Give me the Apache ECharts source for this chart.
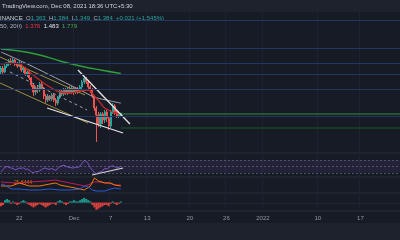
<!DOCTYPE html>
<html><head><meta charset="utf-8">
<script src="https://cdn.jsdelivr.net/npm/echarts@6/dist/echarts.min.js"></script>
<style>html,body{margin:0;padding:0;background:#171b26;}#c{width:400px;height:240px;}</style>
</head><body><div id="c"></div><script>
// ---------- data ----------
const slotCount = 197; // 8h slots from Nov 19
const tickIndex = [9, 36, 54, 72, 93, 111, 129, 156, 177];
const tickText = ['22', 'Dec', '7', '13', '20', '26', '2022', '10', '17'];
// [open, close, low, high]
const candles = [
 [1.794,1.834,1.774,1.854],[1.834,1.794,1.774,1.854],[1.794,1.854,1.784,1.874],[1.854,1.874,1.834,1.894],
 [1.874,1.904,1.854,1.924],[1.904,1.884,1.864,1.934],[1.884,1.914,1.874,1.934],[1.914,1.874,1.854,1.924],
 [1.874,1.854,1.834,1.894],[1.854,1.884,1.844,1.904],[1.884,1.814,1.794,1.894],[1.814,1.834,1.784,1.854],
 [1.834,1.774,1.754,1.844],[1.774,1.794,1.744,1.814],[1.794,1.734,1.714,1.804],[1.734,1.664,1.644,1.744],
 [1.664,1.594,1.554,1.674],[1.594,1.634,1.564,1.654],[1.634,1.614,1.584,1.664],[1.614,1.674,1.594,1.694],
 [1.674,1.634,1.614,1.694],[1.634,1.554,1.524,1.644],[1.554,1.514,1.484,1.574],[1.514,1.554,1.494,1.574],
 [1.554,1.524,1.504,1.564],[1.524,1.564,1.504,1.584],[1.564,1.514,1.494,1.574],[1.514,1.484,1.454,1.534],
 [1.484,1.544,1.464,1.554],[1.544,1.604,1.524,1.614],[1.604,1.574,1.554,1.624],[1.574,1.614,1.554,1.634],
 [1.614,1.584,1.564,1.634],[1.584,1.624,1.564,1.644],[1.624,1.594,1.574,1.654],[1.594,1.634,1.574,1.654],
 [1.634,1.594,1.564,1.644],[1.594,1.624,1.574,1.644],[1.624,1.604,1.574,1.644],[1.604,1.644,1.584,1.664],
 [1.644,1.694,1.624,1.714],[1.694,1.734,1.674,1.754],[1.734,1.694,1.674,1.744],[1.694,1.644,1.624,1.714],
 [1.644,1.614,1.584,1.664],[1.614,1.554,1.534,1.634],[1.554,1.434,1.404,1.564],[1.434,1.364,1.094,1.454],
 [1.364,1.274,1.244,1.394],[1.274,1.374,1.234,1.394],[1.374,1.314,1.274,1.394],[1.314,1.394,1.284,1.414],
 [1.394,1.334,1.294,1.414],[1.334,1.254,1.214,1.354],[1.254,1.394,1.234,1.414],[1.394,1.454,1.374,1.484],
 [1.454,1.394,1.364,1.474],[1.394,1.354,1.334,1.414],[1.354,1.364,1.334,1.384],[1.363,1.384,1.349,1.384]
];
const ma50 = [[0,1.874],[5,1.884],[10,1.864],[14,1.794],[19,1.714],[24,1.644],[29,1.594],[34,1.584],[39,1.604],[43,1.614],[46,1.554],[49,1.484],[51,1.434],[54,1.404],[56,1.384],[59,1.376]];
const ma100 = [[0,1.994],[14,1.864],[29,1.714],[39,1.614],[46,1.544],[54,1.504],[59,1.483]];
const ma200 = [[0,2.024],[9,2.004],[19,1.964],[29,1.904],[39,1.854],[49,1.814],[59,1.779]];
const blueLevels = [2.314, 2.034, 1.879, 1.774, 1.624, 1.354];
const greenRays = [[1.374, '#2f8f3a'], [1.234, '#1f5a2a']];
const channelUpper = [[-0.5,1.944],[41.4,1.564]];
const channelLower = [[-0.5,1.684],[42.8,1.284]];
const channelMid = [[4.4,1.794],[42.4,1.414]];
const wedgeTop = [[37.9,1.814],[63.5,1.274]];
const wedgeBottom = [[22.7,1.434],[60.1,1.184]];
const rsi = [33,40,48,50,47,45,44,39,42,45,44,46,41,42,38,33,30,34,33,36,40,44,45,42,41,44,40,38,44,50,
             52,54,50,48,47,45,46,48,47,52,60,69,66,58,46,38,30,28,31,33,36,44,42,46,50,52,49,45,47,51];
const rsiTrend = [[44.8,23.2],[60.1,45.1]];
const dmiRed = [[0,34.4],[7,31.2],[14,34.4],[22,37.5],[27,40.6],[29,37.5],[34,31.2],[39,25],[41,21.9],[44,28.1],[46,34.4],[49,34.4],[53,31.2],[56,25],[59,25]];
const dmiOrange = [[0,21.9],[5,21.9],[9,31.2],[14,21.9],[19,21.9],[24,28.1],[27,31.2],[29,25],[34,18.7],[39,12.5],[41,9.4],[44,21.9],[46,46.9],[48,37.5],[51,31.2],[54,31.2],[56,25],[59,21.9]];
const dmiBlue = [[0,25],[1,28.1],[5,12.5],[9,12.5],[14,9.4],[19,9.4],[24,12.5],[29,9.4],[34,9.4],[39,12.5],[41,21.9],[43,18.7],[45,9.4],[47,6.2],[49,6.2],[51,6.2],[54,12.5],[56,15.6],[59,12.5]];
const hist = [-3,-2,2,3,2,-1,1,-1,-2,-1,1,2,1,-1,-2,-3,-4,-3,-2,-1,-2,-3,-4,-3,-2,-1,-1,-2,1,2,
              1,-1,-2,-1,1,1,2,1,1,2,3,4,3,2,1,-2,-4,-6,-5,-4,-3,-2,-2,-3,-1,1,-1,-2,-1,1];
const dmiLabel = '25.6444';

// ---------- chart ----------
const cats = Array.from({length: slotCount}, (_, i) => String(i));
const isTick = (i) => tickIndex.indexOf(i) >= 0;
const grids = [
  {left: 0, right: 0, top: 12, height: 141},
  {left: 0, right: 0, top: 153, height: 24},
  {left: 0, right: 0, top: 177, height: 16},
  {left: 0, right: 0, top: 193, height: 18}
];
const xAxis = [];
grids.forEach((g, gi) => {
  xAxis.push({type: 'category', data: cats, gridIndex: gi, boundaryGap: true,
    axisLine: {show: false}, axisTick: {show: false},
    axisLabel: gi === 3 ? {show: true, interval: (i) => isTick(i), color: '#9598a1', fontSize: 6,
      fontFamily: 'Liberation Sans', margin: 4,
      formatter: (v, i) => tickText[tickIndex.indexOf(i)] || ''} : {show: false},
    splitLine: {show: true, interval: (i) => isTick(i), lineStyle: {color: '#1d2130', width: 1}}});
  xAxis.push({type: 'value', gridIndex: gi, min: -0.5, max: slotCount - 0.5, show: false});
});
const yAxis = [
  {gridIndex: 0, type: 'value', min: 0.984, max: 2.394, show: false},
  {gridIndex: 1, type: 'value', min: 17, max: 92, show: false},
  {gridIndex: 2, type: 'value', min: 0, max: 50, show: false},
  {gridIndex: 3, type: 'value', min: -7, max: 8, show: false}
];
const L = (name, data, color, xi, yi, extra) => Object.assign({
  type: 'line', name, data, xAxisIndex: xi, yAxisIndex: yi, symbol: 'none', silent: true,
  lineStyle: {color, width: 1}, animation: false}, extra || {});

const series = [];
series.push(L('levels', [], '#000', 1, 0, {markLine: {silent: true, symbol: ['none','none'], label: {show: false},
  lineStyle: {color: '#243763', width: 1, type: 'solid'}, data: blueLevels.map(v => ({yAxis: v}))}}));
greenRays.forEach(([v, c]) => series.push(L('ray', [[59, v], [slotCount, v]], c, 1, 0)));
series.push(L('chU', channelUpper, '#9c8f3e', 1, 0));
series.push(L('chL', channelLower, '#9c8f3e', 1, 0));
series.push(L('chM', channelMid, '#9ea2ad', 1, 0, {lineStyle: {color: '#9ea2ad', width: 1, type: [3, 3]}}));
series.push(L('ma200', ma200, '#2e9e3a', 1, 0, {smooth: 0.4, lineStyle: {color: '#2e9e3a', width: 1.3}}));
series.push(L('ma100', ma100, '#a3a6af', 1, 0, {smooth: 0.4}));
series.push({type: 'candlestick', xAxisIndex: 0, yAxisIndex: 0, data: candles, barWidth: '75%', silent: true, animation: false,
  itemStyle: {color: '#26a69a', color0: '#ef5350', borderColor: '#26a69a', borderColor0: '#ef5350', borderWidth: 1}});
series.push(L('ma50', ma50, '#c62828', 1, 0, {smooth: 0.4, lineStyle: {color: '#c62828', width: 1.3}}));
series.push(L('wTop', wedgeTop, '#e8e8e8', 1, 0, {lineStyle: {color: '#e6e6e6', width: 1.3}}));
series.push(L('wBot', wedgeBottom, '#e8e8e8', 1, 0, {lineStyle: {color: '#e6e6e6', width: 1.3}}));
series.push(L('rsi', rsi.map((v, i) => [i, v]), '#7e57c2', 3, 1, {
  markArea: {silent: true, itemStyle: {color: 'rgba(126,87,194,0.13)'}, data: [[{yAxis: 30}, {yAxis: 70}]]},
  markLine: {silent: true, symbol: ['none','none'], label: {show: false},
    lineStyle: {color: 'rgba(120,123,134,0.55)', width: 1, type: [2, 2]}, data: [{yAxis: 70}, {yAxis: 50}, {yAxis: 30}]}}));
series.push(L('rsiT', rsiTrend, '#d8d8d8', 3, 1, {lineStyle: {color: '#d8d8d8', width: 1.2}}));
series.push(L('dR', dmiRed, '#c2185b', 5, 2));
series.push(L('dO', dmiOrange, '#f57c00', 5, 2));
series.push(L('dB', dmiBlue, '#2a5bd7', 5, 2));
series.push({type: 'bar', xAxisIndex: 6, yAxisIndex: 3, barWidth: '100%', silent: true, animation: false,
  data: hist.map(v => ({value: v, itemStyle: {color: v >= 0 ? '#1f9a8e' : '#e0433f'}}))});

const last = candles[candles.length - 1];
const f = (v) => v.toFixed(3);
const sep = (y) => ({type: 'line', shape: {x1: 0, y1: y, x2: 400, y2: y}, style: {stroke: '#2a2e39', lineWidth: 1}, silent: true});
const graphic = [
  {type: 'rect', shape: {x: 0, y: 0, width: 400, height: 12}, style: {fill: '#1e222d'}, silent: true},
  {type: 'rect', shape: {x: 0, y: 223, width: 400, height: 17}, style: {fill: '#1e222d'}, silent: true},
  sep(153), sep(177), sep(193), sep(211),
  {type: 'line', shape: {x1: 0, y1: 203.5, x2: 400, y2: 203.5}, style: {stroke: '#222633', lineWidth: 1}, silent: true},
  {type: 'text', x: 2, y: 6, silent: true, style: {text: 'TradingView.com, Dec 08, 2021 18:36 UTC+5:30',
    fill: '#d1d4dc', font: '6px "Liberation Sans"', verticalAlign: 'middle'}},
  {type: 'text', x: 0, y: 18, silent: true, style: {
    text: '{w|INANCE}  {g|O}{t|' + f(last[0]) + '}  {g|H}{t|' + f(last[3]) + '}  {g|L}{t|' + f(last[2]) + '}  {g|C}{t|' + f(last[1]) + '}  {t|+0.021 (+1.545%)}',
    verticalAlign: 'middle', font: '6px "Liberation Sans"',
    rich: {w: {fill: '#d1d4dc', font: '6px "Liberation Sans"'}, g: {fill: '#b2b5be', font: '6px "Liberation Sans"'},
           t: {fill: '#26a69a', font: '6px "Liberation Sans"'}}}},
  {type: 'text', x: 0, y: 26, silent: true, style: {
    text: '{g|50, 200)}  {r|' + f(ma50[ma50.length-1][1]) + '}  {w|' + f(ma100[ma100.length-1][1]) + '}  {n|' + f(ma200[ma200.length-1][1]) + '}',
    verticalAlign: 'middle', font: '6px "Liberation Sans"',
    rich: {g: {fill: '#b2b5be', font: '6px "Liberation Sans"'}, r: {fill: '#f23645', font: '6px "Liberation Sans"'},
           w: {fill: '#e0e3eb', font: '6px "Liberation Sans"'}, n: {fill: '#4caf50', font: '6px "Liberation Sans"'}}}},
  {type: 'text', x: 14, y: 183, silent: true, style: {text: dmiLabel, fill: '#f57c00', font: '5px "Liberation Sans"', verticalAlign: 'middle'}}
];

const chart = echarts.init(document.getElementById('c'), null, {renderer: 'canvas'});
chart.setOption({backgroundColor: '#171b26', animation: false, grid: grids, xAxis, yAxis, series, graphic});
</script></body></html>
